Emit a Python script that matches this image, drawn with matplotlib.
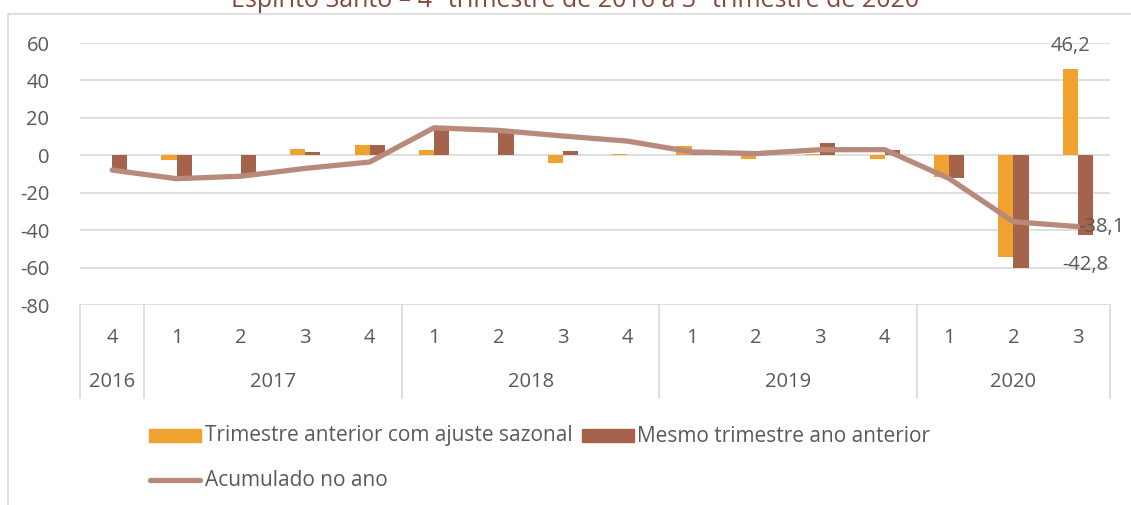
import matplotlib.pyplot as plt
import matplotlib.transforms as mtransforms
from matplotlib.patches import Rectangle
from matplotlib.lines import Line2D
import numpy as np

plt.rcParams['font.family'] = ['Open Sans', 'DejaVu Sans']

# data
quarters = ['4', '1', '2', '3', '4', '1', '2', '3', '4', '1', '2', '3', '4', '1', '2', '3']
years = ['2016', '2017', '2018', '2019', '2020']
year_spans = [(0, 0), (1, 4), (5, 8), (9, 12), (13, 15)]
trim_anterior = [0, -2.5, 0, 3.2, 5.3, 2.7, 0, -4.1, 0.5, 5.0, -2.1, 0.9, -2.1, -11.5, -54.6, 46.2]
mesmo_trim = [-7.6, -12.0, -10.5, 1.8, 5.5, 15.0, 11.7, 2.3, 0.3, 1.8, 0.2, 6.5, 2.7, -12.4, -60.0, -42.8]
acumulado = [-7.9, -12.5, -11.2, -7.0, -3.6, 14.7, 13.3, 10.3, 7.6, 1.8, 0.9, 3.0, 3.0, -12.4, -35.5, -38.1]
title = 'Espírito Santo – 4º trimestre de 2016 a 3º trimestre de 2020'

c_orange = '#F0A22E'
c_brown = '#A5634B'
c_line = '#B88A7C'
c_grid = '#D9D9D9'
c_text = '#595959'
fs = 14.5
fs_leg = 15

W, H = 1131, 505
fig = plt.figure(figsize=(W / 100, H / 100), dpi=100)

# outer chart frame (cut off at right and bottom)
fig.patches.append(Rectangle((8 / W, -0.1), 1.2, 1 - 14 / H + 0.1, transform=fig.transFigure,
                             fill=False, edgecolor=c_grid, lw=1.2))
fig.text(575 / W, 1 - 7 / H, title, ha='center', va='baseline', fontsize=18, color='#84493A')

left, right, top, bottom = 80, 1110, 43, 305
ax = fig.add_axes([left / W, 1 - bottom / H, (right - left) / W, (bottom - top) / H])

x = np.arange(len(quarters))
w = 0.235
ax.bar(x - w / 2, trim_anterior, w, color=c_orange, zorder=2)
ax.bar(x + w / 2, mesmo_trim, w, color=c_brown, zorder=2)
ax.plot(x, acumulado, color=c_line, lw=3.8, solid_capstyle='round', zorder=3)

ax.set_xlim(-0.5, len(quarters) - 0.5)
ax.set_ylim(-80, 60)
ax.set_yticks(range(-80, 61, 20))
ax.set_yticklabels([str(v) for v in range(-80, 61, 20)], fontsize=fs, color=c_text)
ax.yaxis.grid(True, color=c_grid, lw=1.2, zorder=0)
ax.tick_params(axis='y', length=0, pad=22)
ax.set_xticks([])
for s in ax.spines.values():
    s.set_visible(False)

# data labels
ax.text(15 - w / 2, 58.5, '46,2', ha='center', va='center', fontsize=fs, color=c_text)
ax.text(15 + 0.0, acumulado[-1], '-38,1', ha='left', va='center', fontsize=fs, color=c_text,
        clip_on=False)
ax.text(15 + w / 2, -58.5, '-42,8', ha='center', va='center', fontsize=fs, color=c_text)

# category table below the plot
trans = mtransforms.blended_transform_factory(ax.transData, ax.transAxes)
ph = bottom - top
y_q = -(338 - bottom) / ph
y_y = -(382 - bottom) / ph
y_end = -(398 - bottom) / ph
for i, q in enumerate(quarters):
    ax.text(i, y_q, q, transform=trans, ha='center', va='center', fontsize=fs, color=c_text)
for yr, (a, b) in zip(years, year_spans):
    ax.text((a + b) / 2, y_y, yr, transform=trans, ha='center', va='center', fontsize=fs,
            color=c_text)
for xb in [-0.5, 0.5, 4.5, 8.5, 12.5, 15.5]:
    ax.add_line(Line2D([xb, xb], [0, y_end], transform=trans, color=c_grid, lw=1.2, clip_on=False))

# legend drawn by hand
fig.patches.append(Rectangle((149 / W, 1 - 442 / H), 52 / W, 13 / H, transform=fig.transFigure,
                             color=c_orange))
fig.text(205 / W, 1 - 436 / H, 'Trimestre anterior com ajuste sazonal', ha='left', va='center',
         fontsize=fs_leg, color=c_text)
fig.patches.append(Rectangle((582 / W, 1 - 442 / H), 52 / W, 13 / H, transform=fig.transFigure,
                             color=c_brown))
fig.text(637 / W, 1 - 436 / H, 'Mesmo trimestre ano anterior', ha='left', va='center',
         fontsize=fs_leg, color=c_text)
fig.lines.append(Line2D([150 / W, 200 / W], [1 - 480 / H, 1 - 480 / H], transform=fig.transFigure,
                        color=c_line, lw=3.8, solid_capstyle='round'))
fig.text(205 / W, 1 - 480 / H, 'Acumulado no ano', ha='left', va='center', fontsize=fs_leg,
         color=c_text)

fig.savefig('out.png', dpi=100)
